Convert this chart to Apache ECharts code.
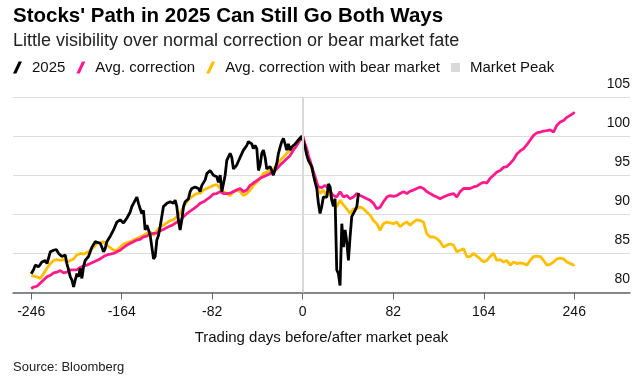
<!DOCTYPE html>
<html>
<head>
<meta charset="utf-8">
<script src="https://cdn.jsdelivr.net/npm/echarts@6/dist/echarts.min.js"></script>
<style>
html,body{margin:0;padding:0;background:#fff;}
#chart{width:638px;height:378px;}
</style>
</head>
<body>
<div id="chart"></div>
<script>
// ---- Data ----
const xTicks = [-246, -164, -82, 0, 82, 164, 246];
const yTicks = [80, 85, 90, 95, 100, 105];

// 2025 path
const days2025 = [
  -246, -243.9, -242.3, -239.3, -236.3, -233.3, -231.7, -228.7, -225.7, -223.3,
  -221.2, -218.2, -215.2, -213.7, -212.1, -210.6, -209.1, -207.6, -206.1, -204.6,
  -203.1, -201.6, -200.1, -198.6, -197.1, -194.1, -191.0, -188.0, -185.9, -183.5,
  -182.0, -180.5, -179.0, -177.5, -174.4, -171.4, -168.4, -165.4, -162.4, -159.4,
  -156.3, -154.8, -153.3, -151.8, -150.3, -148.8, -147.3, -145.8, -144.3, -142.8,
  -141.2, -139.7, -138.2, -136.7, -135.2, -133.7, -132.2, -130.7, -129.2, -127.7,
  -126.2, -123.1, -120.1, -117.1, -115.6, -114.1, -112.6, -111.1, -109.6, -108.0,
  -106.5, -103.5, -102.0, -100.5, -97.5, -94.5, -93.0, -91.4, -88.4, -86.9,
  -83.9, -80.9, -77.9, -76.4, -74.8, -73.3, -71.8, -70.3, -68.8, -65.8,
  -64.3, -62.8, -61.3, -59.8, -56.7, -53.7, -50.7, -49.2, -46.2, -44.7,
  -43.2, -41.6, -40.1, -38.6, -37.1, -35.6, -34.1, -32.6, -29.6, -28.1,
  -26.6, -25.0, -23.5, -22.0, -20.5, -19.0, -17.5, -16.0, -14.5, -13.0,
  -11.5, -10.0, -8.5, -6.9, -5.4, -3.9, -2.4, -0.9, 0,
  2.1, 3.6, 5.1, 6.6, 8.2, 9.7, 11.2, 12.7, 14.2, 15.7,
  17.2, 18.7, 20.2, 21.8, 23.3, 24.8, 26.3, 27.8, 29.3, 30.8,
  32.3, 33.8, 35.4, 36.9, 38.4, 39.9, 41.4, 42.9, 44.4, 45.9,
  47.4, 49.0, 50.5
];
const values2025 = [
  82.4, 82.9, 83.5, 83.3, 83.9, 84.1, 83.7, 85.2, 85.4, 85.5,
  85.0, 84.6, 84.8, 83.7, 82.9, 82.0, 81.6, 80.7, 81.6, 82.4,
  82.0, 83.1, 81.8, 83.3, 84.1, 84.6, 85.8, 86.5, 86.4, 86.3,
  85.8, 85.2, 85.6, 86.5, 87.2, 88.0, 89.0, 89.3, 88.9, 89.5,
  90.3, 91.0, 91.4, 91.6, 92.2, 91.4, 90.7, 90.1, 90.5, 88.0,
  88.6, 88.0, 87.3, 85.8, 84.3, 84.6, 86.7, 87.3, 88.4, 89.7,
  91.0, 91.4, 91.6, 91.4, 91.8, 91.0, 89.2, 88.0, 89.2, 91.0,
  91.6, 92.0, 92.9, 93.3, 93.5, 93.3, 92.9, 93.7, 94.4, 95.2,
  95.6, 95.0, 94.8, 94.1, 95.0, 92.9, 93.1, 95.0, 96.9, 97.8,
  97.3, 95.8, 95.6, 96.3, 97.3, 98.2, 98.8, 99.3, 99.0, 98.4,
  98.8, 98.4, 95.6, 96.3, 97.8, 98.2, 97.3, 95.8, 96.1, 95.6,
  95.0, 95.2, 96.5, 97.8, 98.6, 99.3, 99.7, 99.0, 98.2, 99.0,
  98.2, 98.6, 98.4, 99.0, 98.8, 99.5, 99.7, 100.0, 100,
  98.6, 97.6, 96.9, 96.7, 96.1, 95.0, 94.1, 93.3, 91.4, 90.1,
  91.0, 92.2, 92.4, 92.2, 93.9, 93.5, 91.8, 91.0, 92.0, 82.9,
  82.4, 80.9, 88.8, 85.8, 88.0, 86.5, 84.1, 87.1, 89.7, 89.9,
  90.5, 91.0, 92.7
];

// Average paths (shared day positions)
const avgDays = [
  -246, -243.9, -240.8, -237.8, -234.8, -231.8, -228.7, -225.7, -222.7, -219.7,
  -216.7, -213.7, -210.6, -207.6, -204.6, -201.6, -198.6, -195.6, -192.5, -189.5,
  -186.5, -183.5, -180.5, -177.5, -174.4, -171.4, -168.4, -165.4, -162.4, -159.4,
  -156.3, -153.3, -150.3, -147.3, -144.3, -141.2, -138.2, -135.2, -132.2, -129.2,
  -126.2, -123.1, -120.1, -117.1, -114.1, -111.1, -108.0, -105.0, -102.0, -99.0,
  -96.0, -93.0, -89.9, -86.9, -83.9, -80.9, -77.9, -74.8, -71.8, -68.8,
  -65.8, -62.8, -59.8, -56.7, -53.7, -50.7, -47.7, -44.7, -41.6, -38.6,
  -35.6, -32.6, -29.6, -26.6, -23.5, -20.5, -17.5, -14.5, -11.5, -8.5,
  -5.4, -2.4, 0,
  2.1, 3.6, 5.1, 6.6, 8.2, 9.7, 11.2, 12.7, 14.2, 15.7,
  17.2, 18.7, 20.2, 21.8, 23.3, 24.8, 26.3, 27.8, 30.8, 33.8,
  36.9, 39.9, 42.9, 45.9, 49.0, 52.0, 55.0, 58.0, 61.0, 64.1,
  67.1, 70.1, 73.1, 76.2, 79.2, 82.2, 85.2, 88.2, 91.3, 94.3,
  97.3, 100.3, 103.4, 106.4, 109.4, 112.4, 115.4, 118.5, 121.5, 124.5,
  127.5, 130.6, 133.6, 136.6, 139.6, 142.6, 145.7, 148.7, 151.7, 154.7,
  157.7, 160.8, 163.8, 166.8, 169.8, 172.9, 175.9, 178.9, 181.9, 184.9,
  188.0, 191.0, 194.0, 197.0, 200.1, 203.1, 206.1, 209.1, 212.1, 215.2,
  218.2, 221.2, 224.2, 227.2, 230.3, 233.3, 236.3, 239.3, 242.3, 245.4,
  246
];
const avgCorrection = [
  80.5, 80.7, 80.8, 81.2, 81.6, 82.0, 82.2, 82.5, 82.6, 82.8,
  82.5, 82.6, 82.9, 82.9, 82.9, 83.2, 83.4, 83.5, 83.7, 83.9,
  84.1, 84.3, 84.6, 84.8, 84.9, 85.0, 85.2, 85.4, 85.75, 86.05,
  86.3, 86.5, 86.7, 86.8, 87.1, 87.2, 87.5, 87.55, 87.6, 87.9,
  88.05, 88.3, 88.5, 88.7, 89.0, 89.2, 89.7, 90.1, 90.4, 90.7,
  91.0, 91.4, 91.6, 91.9, 92.2, 92.6, 92.65, 92.9, 92.65, 92.65,
  92.7, 92.9, 93.1, 93.3, 92.9, 93.1, 93.7, 94.0, 94.3, 94.6,
  94.8, 95.0, 95.2, 95.4, 95.8, 96.3, 96.7, 97.1, 97.5, 98.2,
  98.8, 99.5, 100,
  99.0, 98.4, 97.5, 96.9, 96.1, 95.4, 94.8, 94.1, 93.5, 93.3,
  93.4, 93.5, 93.7, 93.6, 93.3, 92.9, 92.65, 92.4, 92.2, 92.9,
  92.2, 92.4, 92.0, 92.2, 92.65, 92.4, 92.2, 92.0, 91.8, 91.4,
  90.7, 90.9, 91.6, 92.2, 92.4, 92.3, 92.4, 92.65, 92.9, 92.65,
  92.95, 93.1, 93.3, 93.5, 93.3, 92.9, 92.65, 92.4, 92.2, 92.0,
  92.2, 92.4, 92.55, 92.65, 92.2, 92.9, 93.3, 93.3, 93.3, 93.5,
  93.6, 93.9, 94.1, 94.0, 94.6, 95.0, 95.4, 95.6, 96.0, 96.1,
  96.5, 97.0, 97.7, 98.1, 98.4, 98.9, 99.5, 100.1, 100.4, 100.5,
  100.65, 100.7, 100.8, 100.5, 101.4, 101.8, 102.0, 102.4, 102.65, 102.95,
  103.1
];
const avgCorrectionBear = [
  82.2, 82.1, 82.0, 81.8, 82.4, 83.1, 83.7, 84.1, 84.2, 84.1,
  84.2, 83.9, 84.1, 84.3, 84.8, 85.0, 84.9, 85.1, 85.4, 85.8,
  86.3, 86.35, 86.5, 86.05, 85.75, 85.4, 85.4, 85.8, 86.2, 86.35,
  86.5, 86.7, 86.9, 87.1, 87.3, 87.6, 87.75, 87.3, 87.9, 88.4,
  88.6, 88.9, 89.2, 89.3, 89.7, 90.1, 90.95, 91.6, 92.1, 92.4,
  92.65, 92.7, 93.1, 93.3, 93.5, 93.7, 93.8, 93.3, 92.9, 92.65,
  92.4, 92.9, 93.1, 92.9, 92.4, 92.65, 93.1, 93.7, 94.1, 94.6,
  95.2, 95.4, 95.6, 95.8, 96.3, 96.9, 97.3, 97.8, 98.2, 98.6,
  99.0, 99.5, 100,
  98.8, 98.2, 97.3, 96.5, 95.8, 95.2, 94.6, 93.9, 93.1, 92.65,
  92.9, 93.1, 92.7, 92.4, 92.9, 92.65, 92.0, 91.6, 90.95, 91.8,
  91.2, 90.7, 90.1, 90.7, 90.7, 90.95, 90.7, 90.3, 89.9, 89.2,
  88.8, 87.96, 88.8, 89.0, 88.9, 88.8, 89.0, 88.4, 88.8, 89.0,
  88.6, 89.0, 89.3, 89.2, 89.0, 87.5, 87.1, 87.1, 86.9, 86.5,
  85.8, 86.05, 86.2, 86.05, 85.2, 85.4, 85.6, 84.6, 84.6, 85.0,
  84.65, 84.3, 83.9, 84.1, 84.6, 85.0, 84.1, 84.2, 83.9, 84.1,
  83.5, 83.9, 83.7, 83.8, 83.7, 83.5, 84.1, 84.6, 84.65, 84.6,
  84.1, 83.5, 83.6, 83.9, 84.3, 84.4, 84.3, 83.9, 83.7, 83.5,
  83.6
];
const marketPeakDay = [0];

// ---- Chart ----
const FONT = '"Liberation Sans", Arial, Helvetica, sans-serif';
const slash = 'path://M0,12 L3.4,12 L9,0 L5.6,0 Z';
const square = 'path://M0,0 L10,0 L10,10 L0,10 Z';
const C_BLACK = '#000000', C_PINK = '#ff1a8c', C_YELLOW = '#ffbf00', C_PEAK = '#d9d9d9';

const chart = echarts.init(document.getElementById('chart'), null, {renderer: 'canvas'});
chart.setOption({
  animation: false,
  backgroundColor: '#ffffff',
  textStyle: {fontFamily: FONT},
  title: [
    {text: "Stocks' Path in 2025 Can Still Go Both Ways", left: 8, top: 1,
     textStyle: {fontSize: 20.5, fontWeight: 'bold', color: '#000', fontFamily: FONT}},
    {text: 'Little visibility over normal correction or bear market fate', left: 8, top: 27.5,
     textStyle: {fontSize: 18, fontWeight: 'normal', color: '#222', fontFamily: FONT}},
    {text: 'Source: Bloomberg', left: 8, top: 356,
     textStyle: {fontSize: 13, fontWeight: 'normal', color: '#222', fontFamily: FONT}}
  ],
  legend: {
    left: 8, top: 55, itemWidth: 9, itemHeight: 12, itemGap: 11,
    symbolKeepAspect: true,
    textStyle: {fontSize: 15, color: '#111', fontFamily: FONT, padding: [0, 0, 0, 5]},
    data: [
      {name: '2025', icon: slash, itemStyle: {color: C_BLACK, borderWidth: 0}},
      {name: 'Avg. correction', icon: slash, itemStyle: {color: C_PINK, borderWidth: 0}},
      {name: 'Avg. correction with bear market', icon: slash, itemStyle: {color: C_YELLOW, borderWidth: 0}},
      {name: 'Market Peak', icon: square, itemStyle: {color: C_PEAK, borderWidth: 0}}
    ]
  },
  grid: {left: 13, right: 8, top: 97, bottom: 85.5, containLabel: false},
  xAxis: {
    type: 'value', min: -262.5, max: 296.5,
    name: 'Trading days before/after market peak', nameLocation: 'middle', nameGap: 38,
    nameTextStyle: {fontSize: 15, color: '#111', fontFamily: FONT},
    splitLine: {show: false},
    axisLine: {show: true, lineStyle: {color: '#666', width: 1.5}},
    axisTick: {show: true, customValues: xTicks, length: 7, lineStyle: {color: '#666', width: 1}},
    axisLabel: {customValues: xTicks, margin: 13, fontSize: 14, color: '#111', fontFamily: FONT}
  },
  yAxis: {
    type: 'value', position: 'right', min: 80, max: 105, interval: 5,
    axisLine: {show: false}, axisTick: {show: false},
    splitLine: {show: true, lineStyle: {color: '#dcdcdc', width: 1}},
    axisLabel: {inside: true, margin: 0, verticalAlign: 'bottom', lineHeight: 14,
      padding: [0, 0, 6, 0], fontSize: 14, color: '#111', fontFamily: FONT,
      customValues: yTicks}
  },
  series: [
    {name: 'Market Peak', type: 'line', data: [], color: C_PEAK,
     markLine: {silent: true, symbol: 'none', label: {show: false},
       lineStyle: {color: C_PEAK, width: 2, type: 'solid'},
       data: marketPeakDay.map(d => ({xAxis: d}))}},
    {name: 'Avg. correction with bear market', type: 'line', showSymbol: false, color: C_YELLOW,
     lineStyle: {width: 2.8, color: C_YELLOW},
     data: avgDays.map((d, i) => [d, avgCorrectionBear[i]])},
    {name: 'Avg. correction', type: 'line', showSymbol: false, color: C_PINK,
     lineStyle: {width: 2.8, color: C_PINK},
     data: avgDays.map((d, i) => [d, avgCorrection[i]])},
    {name: '2025', type: 'line', showSymbol: false, color: C_BLACK,
     lineStyle: {width: 2.8, color: C_BLACK},
     data: days2025.map((d, i) => [d, values2025[i]])}
  ]
});
</script>
</body>
</html>
